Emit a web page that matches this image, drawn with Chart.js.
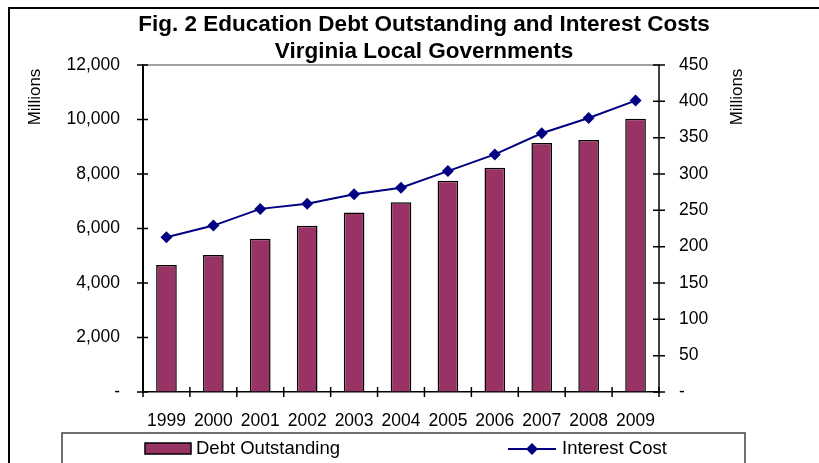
<!DOCTYPE html>
<html>
<head>
<meta charset="utf-8">
<title>Education Debt Outstanding and Interest Costs</title>
<script src="https://cdn.jsdelivr.net/npm/chart.js@4/dist/chart.umd.min.js"></script>
<style>
  body { margin: 0; background: #fff; }
  #chart { display: block; }
</style>
</head>
<body>
<canvas id="chart" width="819" height="463"></canvas>
<script>
// Chart Data
const years = ["1999", "2000", "2001", "2002", "2003", "2004", "2005", "2006", "2007", "2008", "2009"];
const debtOutstanding = [4660, 5030, 5620, 6100, 6590, 6960, 7750, 8230, 9140, 9250, 10030];
const interestCost = [213, 229, 252, 259, 272, 281, 304, 327, 356, 377, 401];
const titleLines = ["Fig. 2 Education Debt Outstanding and Interest Costs", "Virginia Local Governments"];
const axisTitle = "Millions";

const fontFamily = "'Liberation Sans', Arial, sans-serif";
Chart.defaults.font.family = fontFamily;
Chart.defaults.color = "#000";

function tickText(value) {
  return value === 0 ? "-" : value.toLocaleString("en-US");
}

// Extra Drawing: Frame, Title, Crossing Ticks, Legend
const extras = {
  id: "extras",
  afterDraw(chart) {
    const ctx = chart.ctx;
    const area = chart.chartArea;
    const x = chart.scales.x;
    const y = chart.scales.y;
    const y2 = chart.scales.y2;

    ctx.save();

    // outer frame (only top and left visible)
    ctx.strokeStyle = "#000";
    ctx.lineWidth = 2;
    ctx.beginPath();
    ctx.moveTo(9, 480);
    ctx.lineTo(9, 8);
    ctx.lineTo(840, 8);
    ctx.stroke();

    // plot top border
    ctx.strokeStyle = "#808080";
    ctx.lineWidth = 1.5;
    ctx.beginPath();
    ctx.moveTo(area.left, area.top);
    ctx.lineTo(area.right, area.top);
    ctx.stroke();

    // crossing tick marks
    ctx.strokeStyle = "#000";
    ctx.lineWidth = 1.5;
    ctx.beginPath();
    y.ticks.forEach((t) => {
      const py = y.getPixelForValue(t.value);
      ctx.moveTo(area.left - 6, py);
      ctx.lineTo(area.left + 5, py);
    });
    y2.ticks.forEach((t) => {
      const py = y2.getPixelForValue(t.value);
      ctx.moveTo(area.right - 6, py);
      ctx.lineTo(area.right + 6, py);
    });
    for (let i = 0; i <= years.length; i++) {
      const px = x.getPixelForValue(i - 0.5);
      ctx.moveTo(px, area.bottom - 5);
      ctx.lineTo(px, area.bottom + 5);
    }
    ctx.stroke();

    // title
    ctx.fillStyle = "#000";
    ctx.font = "bold 22.5px " + fontFamily;
    ctx.textAlign = "center";
    ctx.textBaseline = "middle";
    titleLines.forEach((line, i) => {
      ctx.fillText(line, 424, 25 + i * 27);
    });

    // axis titles
    ctx.font = "17px " + fontFamily;
    [35, 737].forEach((tx) => {
      ctx.save();
      ctx.translate(tx, 97);
      ctx.rotate(-Math.PI / 2);
      ctx.fillText(axisTitle, 0, 0);
      ctx.restore();
    });

    // legend box
    ctx.strokeStyle = "#404040";
    ctx.lineWidth = 1.5;
    ctx.strokeRect(62, 433, 683, 60);

    const bars = chart.data.datasets[0];
    const line = chart.data.datasets[1];
    ctx.font = "18.5px " + fontFamily;
    ctx.textAlign = "left";

    ctx.fillStyle = bars.backgroundColor;
    ctx.fillRect(145, 443, 46, 11);
    ctx.strokeStyle = "#000";
    ctx.lineWidth = 1.5;
    ctx.strokeRect(145, 443, 46, 11);
    ctx.fillStyle = "#000";
    ctx.fillText(bars.label, 196, 449);

    ctx.strokeStyle = line.borderColor;
    ctx.lineWidth = 2;
    ctx.beginPath();
    ctx.moveTo(508, 449);
    ctx.lineTo(556, 449);
    ctx.stroke();
    ctx.fillStyle = line.borderColor;
    ctx.beginPath();
    ctx.moveTo(532, 443);
    ctx.lineTo(538, 449);
    ctx.lineTo(532, 455);
    ctx.lineTo(526, 449);
    ctx.closePath();
    ctx.fill();
    ctx.fillStyle = "#000";
    ctx.fillText(line.label, 562, 449);

    ctx.restore();
  },
};

// Start Chart
const chart = document.querySelector("#chart").getContext("2d");

new Chart(chart, {
  data: {
    labels: years,
    datasets: [
      {
        type: "bar",
        label: "Debt Outstanding",
        data: debtOutstanding,
        yAxisID: "y",
        backgroundColor: "#993366",
        borderColor: "#000",
        borderWidth: 1.5,
        categoryPercentage: 1,
        barPercentage: 0.44,
        order: 2,
      },
      {
        type: "line",
        label: "Interest Cost",
        data: interestCost,
        yAxisID: "y2",
        borderColor: "#000080",
        backgroundColor: "#000080",
        borderWidth: 2,
        pointStyle: "rectRot",
        pointRadius: 6,
        pointBorderWidth: 0,
        tension: 0,
        order: 1,
      },
    ],
  },
  options: {
    responsive: false,
    animation: false,
    devicePixelRatio: 1,
    layout: { padding: { top: 65, left: 0, right: 0, bottom: 0 } },
    plugins: {
      legend: { display: false },
      title: { display: false },
      tooltip: { enabled: false },
    },
    scales: {
      x: {
        offset: true,
        grid: { display: false, offset: true },
        border: { color: "#000", width: 1.5 },
        ticks: { font: { size: 17.5 }, padding: 11, maxRotation: 0, autoSkip: false },
        afterFit(scale) {
          scale.height = 71;
        },
      },
      y: {
        position: "left",
        min: 0,
        max: 12000,
        grid: { drawOnChartArea: false, drawTicks: false },
        border: { color: "#000", width: 2 },
        ticks: { stepSize: 2000, font: { size: 17.5 }, padding: 23, callback: tickText },
        afterFit(scale) {
          scale.width = 143;
        },
      },
      y2: {
        position: "right",
        min: 0,
        max: 450,
        grid: { drawOnChartArea: false, drawTicks: false },
        border: { color: "#404040", width: 2 },
        ticks: { stepSize: 50, font: { size: 17.5 }, padding: 20, callback: tickText },
        afterFit(scale) {
          scale.width = 160;
        },
      },
    },
  },
  plugins: [extras],
});
</script>
</body>
</html>
